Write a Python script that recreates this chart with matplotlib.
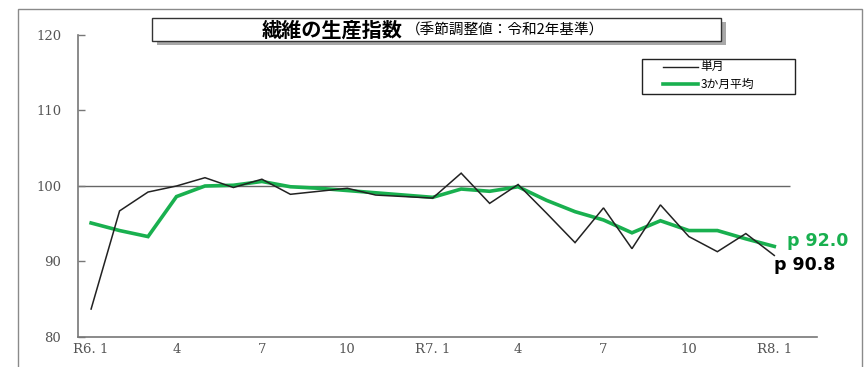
import matplotlib.pyplot as plt
from matplotlib.patches import Rectangle
from matplotlib.lines import Line2D
from matplotlib.text import Annotation

# monthly index, R6.1 .. R8.1
months = ["R6. 1", "2", "3", "4", "5", "6", "7", "8", "9", "10", "11", "12",
          "R7. 1", "2", "3", "4", "5", "6", "7", "8", "9", "10", "11", "12",
          "R8. 1"]
single_month = [83.7, 96.7, 99.2, 100.0, 101.1, 99.8, 100.9, 98.9, 99.3, 99.7,
                98.8, 98.6, 98.4, 101.7, 97.7, 100.2, 96.4, 92.5, 97.1, 91.7,
                97.5, 93.3, 91.3, 93.7, 90.8]
three_month_avg = [95.1, 94.1, 93.3, 98.6, 100.0, 100.1, 100.6, 99.9, 99.7, 99.4,
                   99.1, 98.8, 98.5, 99.6, 99.3, 99.9, 98.1, 96.6, 95.5, 93.8,
                   95.4, 94.1, 94.1, 93.0, 92.0]
label_idx = [0, 3, 6, 9, 12, 15, 18, 21, 24]
y_ticks = [80, 90, 100, 110, 120]

W, H = 868, 367
GREEN = "#19b04f"
JP = ["Noto Sans CJK JP", "DejaVu Sans"]


def px(x, y):
    """pixel (top-left origin) -> figure fraction"""
    return x / W, 1 - y / H


fig = plt.figure(figsize=(W / 100, H / 100), dpi=100)
fig.patch.set_facecolor("white")

# outer gray frame
fig.patches.append(Rectangle(px(18, 380), (862 - 18) / W, (380 - 9) / H,
                             transform=fig.transFigure, fill=False,
                             edgecolor="#8a8a8a", lw=1.0))

ax = fig.add_axes([78 / W, 30 / H, (817 - 78) / W, (337 - 35) / H])
x = list(range(len(months)))

# reference line at 100
ax.hlines(100, -0.46, 24.56, color="#666666", lw=1.0, zorder=1)
ax.plot(x, three_month_avg, color=GREEN, lw=2.6, zorder=2, solid_joinstyle="miter")
ax.plot(x, single_month, color="#222222", lw=1.1, zorder=3, solid_joinstyle="miter")

ax.set_xlim(-0.46, 25.5)
ax.set_ylim(80, 120)
ax.set_yticks(y_ticks)
ax.set_yticklabels([str(v) for v in y_ticks], family="DejaVu Serif",
                   fontsize=9.5, color="#555555")
ax.set_xticks(label_idx)
ax.set_xticklabels([months[i] for i in label_idx], family="DejaVu Serif",
                   fontsize=9.5, color="#555555")
ax.tick_params(axis="y", direction="in", length=5, width=1, color="#777777", pad=12)
ax.tick_params(axis="x", length=0, pad=4)
for s in ["top", "right"]:
    ax.spines[s].set_visible(False)
for s in ["left", "bottom"]:
    ax.spines[s].set_color("#777777")
    ax.spines[s].set_linewidth(1.2)

# end labels
ax.annotate("p 92.0", (24, three_month_avg[-1]), xytext=(9, 4),
            textcoords="offset points", color=GREEN, fontsize=12.5,
            fontweight="bold", va="center", family="DejaVu Sans")
ax.annotate("p 90.8", (24, single_month[-1]), xytext=(0, -7),
            textcoords="offset points", color="black", fontsize=12.5,
            fontweight="bold", va="center", family="DejaVu Sans")

# title box with shadow
fig.patches.append(Rectangle(px(157, 45), (721 - 152) / W, (41 - 18) / H,
                             transform=fig.transFigure, facecolor="#a8a8a8",
                             edgecolor="none"))
fig.patches.append(Rectangle(px(152, 41), (721 - 152) / W, (41 - 18) / H,
                             transform=fig.transFigure, facecolor="white",
                             edgecolor="#333333", lw=1.0))
tx, ty = px(262, 30)
main_title = fig.text(tx, ty, "繊維の生産指数", family=JP, fontsize=14.5,
                      fontweight="bold", va="center", ha="left")
sub_title = Annotation("（季節調整値：令和2年基準）", xy=(1, 0.5), xycoords=main_title,
                       xytext=(2, 0), textcoords="offset points", family=JP,
                       fontsize=10.5, va="center", ha="left", annotation_clip=False)
sub_title.set_zorder(4)
fig.add_artist(sub_title)

# legend box
fig.patches.append(Rectangle(px(642, 94), (795 - 642) / W, (94 - 59) / H,
                             transform=fig.transFigure, facecolor="white",
                             edgecolor="#222222", lw=1.0))
handles = [Line2D([], [], color="#222222", lw=1.0),
           Line2D([], [], color=GREEN, lw=2.6)]
lx, ly = px(663, 76)
fig.legend(handles, ["単月", "3か月平均"], loc="center left",
           bbox_to_anchor=(lx, ly), frameon=False, prop={"family": JP, "size": 8.5},
           handlelength=3.0, handletextpad=0.15, labelspacing=0.4,
           borderpad=0, borderaxespad=0)

fig.savefig("out.png", dpi=100)
